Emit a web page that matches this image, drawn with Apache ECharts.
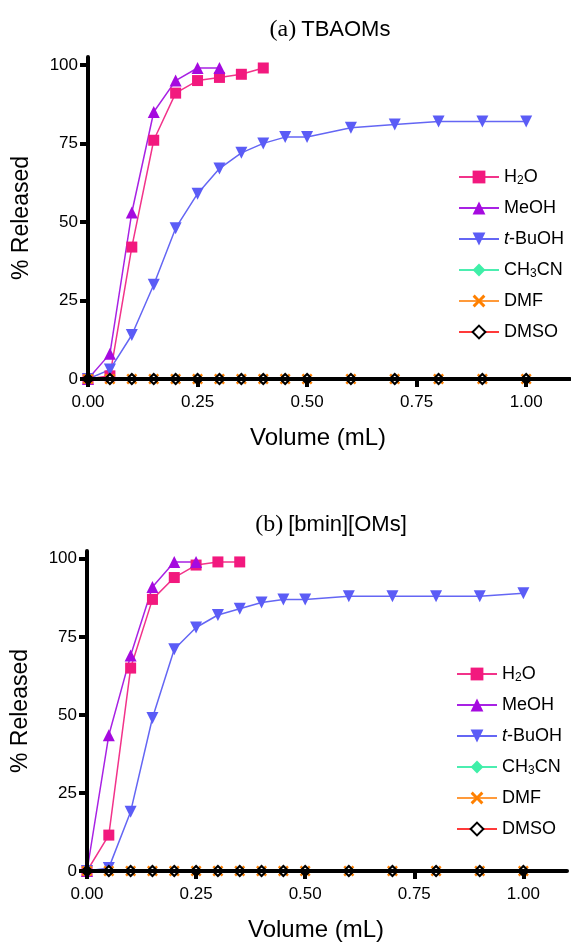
<!DOCTYPE html>
<html>
<head>
<meta charset="utf-8">
<script src="https://cdn.jsdelivr.net/npm/echarts@6/dist/echarts.min.js"></script>
<style>
  html, body { margin: 0; padding: 0; background: #fff; }
  #chart { width: 571px; height: 943px; }
</style>
</head>
<body>
<div id="chart"></div>
<script>
// Solvent volumes (mL) and cumulative release (%) for each solvent

// (a) TBAOMs
const volA_H2O   = [0, 0.05, 0.10, 0.15, 0.20, 0.25, 0.30, 0.35, 0.40];
const relA_H2O   = [0, 1, 42, 76, 91, 95, 96, 97, 99];
const volA_MeOH  = [0, 0.05, 0.10, 0.15, 0.20, 0.25, 0.30];
const relA_MeOH  = [0, 8, 53, 85, 95, 99, 99];
const volA_full  = [0, 0.05, 0.10, 0.15, 0.20, 0.25, 0.30, 0.35, 0.40, 0.45, 0.50, 0.60, 0.70, 0.80, 0.90, 1.00];
const relA_tBuOH = [0, 3, 14, 30, 48, 59, 67, 72, 75, 77, 77, 80, 81, 82, 82, 82];
const relA_CH3CN = [0, 0, 0, 0, 0, 0, 0, 0, 0, 0, 0, 0, 0, 0, 0, 0];
const relA_DMF   = [0, 0, 0, 0, 0, 0, 0, 0, 0, 0, 0, 0, 0, 0, 0, 0];
const relA_DMSO  = [0, 0, 0, 0, 0, 0, 0, 0, 0, 0, 0, 0, 0, 0, 0, 0];

// (b) [bmin][OMs]
const volB_H2O   = [0, 0.05, 0.10, 0.15, 0.20, 0.25, 0.30, 0.35];
const relB_H2O   = [0, 11.5, 65, 87, 94, 98, 99, 99];
const volB_MeOH  = [0, 0.05, 0.10, 0.15, 0.20, 0.25];
const relB_MeOH  = [0, 43.5, 69, 91, 99, 99];
const volB_full  = [0, 0.05, 0.10, 0.15, 0.20, 0.25, 0.30, 0.35, 0.40, 0.45, 0.50, 0.60, 0.70, 0.80, 0.90, 1.00];
const relB_tBuOH = [0, 1, 19, 49, 71, 78, 82, 84, 86, 87, 87, 88, 88, 88, 88, 89];
const relB_CH3CN = [0, 0, 0, 0, 0, 0, 0, 0, 0, 0, 0, 0, 0, 0, 0, 0];
const relB_DMF   = [0, 0, 0, 0, 0, 0, 0, 0, 0, 0, 0, 0, 0, 0, 0, 0];
const relB_DMSO  = [0, 0, 0, 0, 0, 0, 0, 0, 0, 0, 0, 0, 0, 0, 0, 0];

// Axis ticks
const xTicks = [0, 0.25, 0.5, 0.75, 1.0];
const yTicks = [0, 25, 50, 75, 100];

const solventNames = ['H2O', 'MeOH', 't-BuOH', 'CH3CN', 'DMF', 'DMSO'];
const panelTitles = ['{s|(a)} {t|TBAOMs}', '{s|(b)} {t|[bmin][OMs]}'];

const SANS = 'Liberation Sans, Arial, sans-serif';
const SERIF = 'Liberation Serif, Times New Roman, serif';

const DOWN_TRIANGLE = 'path://M0,0 L10,0 L5,9 Z';
const CROSS = 'path://M0,1.6 L1.6,0 L5,3.4 L8.4,0 L10,1.6 L6.6,5 L10,8.4 L8.4,10 L5,6.6 L1.6,10 L0,8.4 L3.4,5 Z';

const styles = {
  'H2O':    { symbol: 'rect', size: 11, color: '#F2197E', line: '#F2338A' },
  'MeOH':   { symbol: 'triangle', size: 12, color: '#A50ADF', line: '#A822E4' },
  't-BuOH': { symbol: DOWN_TRIANGLE, size: 12, color: '#5B5CF6', line: '#6466F4' },
  'CH3CN':  { symbol: 'diamond', size: 10, color: '#3FEFA8', line: '#4BEEB0' },
  'DMF':    { symbol: CROSS, size: 11, color: '#FF8000', line: '#FF9A3A' },
  'DMSO':   { symbol: 'diamond', size: 10, color: '#FFFFFF', line: '#FF3A3A', border: '#000000' }
};

function pairs(xs, ys) {
  return xs.map((x, i) => [x, ys[i]]);
}

function makeSeries(name, idx, xs, ys) {
  const st = styles[name];
  const itemStyle = { color: st.color };
  if (st.border) { itemStyle.borderColor = st.border; itemStyle.borderWidth = 2.2; }
  return {
    name: name,
    type: 'line',
    xAxisIndex: idx,
    yAxisIndex: idx,
    data: pairs(xs, ys),
    symbol: st.symbol,
    symbolSize: st.size,
    showAllSymbol: true,
    itemStyle: itemStyle,
    lineStyle: { color: st.line, width: 1.5 },
    emphasis: { disabled: true },
    z: 2
  };
}

const legendFormatter = function (name) {
  if (name === 'H2O') return 'H{sub|2}O';
  if (name === 'CH3CN') return 'CH{sub|3}CN';
  if (name === 't-BuOH') return '{i|t}-BuOH';
  return name;
};

const legendText = {
  color: '#000',
  fontFamily: SANS,
  fontSize: 18,
  lineHeight: 20,
  rich: {
    sub: { fontFamily: SANS, fontSize: 12, padding: [8, 0, 0, 0], color: '#000' },
    i: { fontFamily: SANS, fontSize: 18, fontStyle: 'italic', color: '#000' }
  }
};

function makeLegend(left, top) {
  return {
    orient: 'vertical',
    left: left,
    top: top,
    padding: 0,
    itemWidth: 40,
    itemHeight: 16,
    itemGap: 11,
    selectedMode: false,
    data: solventNames,
    formatter: legendFormatter,
    textStyle: legendText
  };
}

function makeXAxis(idx) {
  return {
    type: 'value',
    gridIndex: idx,
    min: 0,
    max: 1.1,
    z: 5,
    name: 'Volume (mL)',
    nameLocation: 'middle',
    nameGap: 47,
    nameTextStyle: { fontFamily: SANS, fontSize: 24, color: '#000', padding: [0, 22, 0, 0] },
    axisLine: { onZero: false, lineStyle: { color: '#000', width: 4 } },
    axisTick: { show: true, length: 8, customValues: xTicks, lineStyle: { color: '#000', width: 4 } },
    axisLabel: {
      customValues: xTicks,
      margin: 15,
      fontFamily: SANS,
      fontSize: 17,
      color: '#000',
      formatter: v => v.toFixed(2)
    },
    splitLine: { show: false }
  };
}

function makeYAxis(idx) {
  return {
    type: 'value',
    gridIndex: idx,
    min: 0,
    max: 102.5,
    z: 5,
    name: '% Released',
    nameLocation: 'middle',
    nameGap: 55,
    nameTextStyle: { fontFamily: SANS, fontSize: 23, color: '#000' },
    axisLine: { onZero: false, lineStyle: { color: '#000', width: 4 } },
    axisTick: { show: true, length: 8, customValues: yTicks, lineStyle: { color: '#000', width: 4 } },
    axisLabel: {
      customValues: yTicks,
      margin: 10,
      fontFamily: SANS,
      fontSize: 17,
      color: '#000'
    },
    splitLine: { show: false }
  };
}

const titleRich = {
  s: { fontFamily: SERIF, fontSize: 24, fontWeight: 'normal', color: '#000' },
  t: { fontFamily: SANS, fontSize: 22, fontWeight: 'normal', color: '#000' }
};

const series = [
  makeSeries('H2O', 0, volA_H2O, relA_H2O),
  makeSeries('MeOH', 0, volA_MeOH, relA_MeOH),
  makeSeries('t-BuOH', 0, volA_full, relA_tBuOH),
  makeSeries('CH3CN', 0, volA_full, relA_CH3CN),
  makeSeries('DMF', 0, volA_full, relA_DMF),
  makeSeries('DMSO', 0, volA_full, relA_DMSO),
  makeSeries('H2O', 1, volB_H2O, relB_H2O),
  makeSeries('MeOH', 1, volB_MeOH, relB_MeOH),
  makeSeries('t-BuOH', 1, volB_full, relB_tBuOH),
  makeSeries('CH3CN', 1, volB_full, relB_CH3CN),
  makeSeries('DMF', 1, volB_full, relB_DMF),
  makeSeries('DMSO', 1, volB_full, relB_DMSO)
];

const chart = echarts.init(document.getElementById('chart'), null, { renderer: 'canvas' });
chart.setOption({
  animation: false,
  backgroundColor: '#fff',
  title: [
    { text: panelTitles[0], left: 325, top: 13, textAlign: 'center', textStyle: { fontWeight: 'normal', rich: titleRich } },
    { text: panelTitles[1], left: 326, top: 508, textAlign: 'center', textStyle: { fontWeight: 'normal', rich: titleRich } }
  ],
  legend: [makeLegend(458, 167), makeLegend(456, 664)],
  grid: [
    { left: 88, right: 1, top: 57, bottom: 564, containLabel: false },
    { left: 87, right: 4, top: 551, bottom: 71, containLabel: false }
  ],
  xAxis: [makeXAxis(0), makeXAxis(1)],
  yAxis: [makeYAxis(0), makeYAxis(1)],
  series: series
});
</script>
</body>
</html>
